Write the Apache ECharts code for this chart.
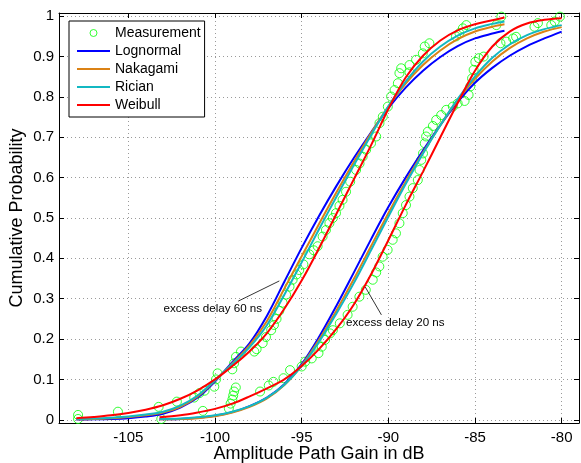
<!DOCTYPE html>
<html>
<head>
<meta charset="utf-8">
<script src="https://cdn.jsdelivr.net/npm/echarts@6/dist/echarts.min.js"></script>
<style>html,body{margin:0;padding:0;background:#fff}#c{width:581px;height:463px}</style>
</head>
<body>
<div id="c"></div>
<script>
// ---- data ----
const legendNames = ['Measurement', 'Lognormal', 'Nakagami', 'Rician', 'Weibull'];

// excess delay 60 ns: fitted CDFs
const x60 = [-108,-107,-106,-105,-104,-103,-102,-101,-100,-99,-98,-97,-96,-95,-94,-93,-92,-91,-90,-89,-88,-87,-86,-85,-84,-83.3];
const lognormal60 = [0.0005,0.001,0.002,0.004,0.008,0.015,0.03,0.055,0.095,0.143,0.19,0.258,0.342,0.426,0.505,0.579,0.648,0.712,0.772,0.823,0.865,0.899,0.926,0.945,0.957,0.964];
const nakagami60  = [0.001,0.002,0.004,0.007,0.011,0.018,0.032,0.058,0.097,0.14,0.185,0.245,0.325,0.405,0.485,0.563,0.638,0.71,0.776,0.833,0.879,0.915,0.943,0.962,0.974,0.98];
const rician60    = [0.002,0.003,0.005,0.008,0.013,0.02,0.035,0.06,0.098,0.138,0.18,0.235,0.31,0.39,0.472,0.552,0.63,0.705,0.777,0.838,0.888,0.925,0.952,0.97,0.981,0.987];
const weibull60   = [0.004,0.007,0.011,0.017,0.025,0.036,0.052,0.073,0.1,0.133,0.17,0.215,0.275,0.345,0.425,0.51,0.595,0.68,0.77,0.848,0.902,0.94,0.965,0.98,0.99,0.997];

// excess delay 20 ns: fitted CDFs
const x20 = [-103.2,-102,-101,-100,-99,-98,-97,-96,-95,-94,-93,-92,-91,-90,-89,-88,-87,-86,-85,-84,-83,-82,-81,-80];
const lognormal20 = [0.001,0.002,0.005,0.01,0.019,0.034,0.055,0.088,0.138,0.205,0.282,0.364,0.447,0.527,0.6,0.667,0.73,0.787,0.835,0.872,0.902,0.926,0.945,0.962];
const nakagami20  = [0.001,0.002,0.004,0.009,0.018,0.032,0.053,0.086,0.135,0.198,0.27,0.348,0.43,0.512,0.59,0.662,0.73,0.792,0.845,0.888,0.921,0.945,0.962,0.973];
const rician20    = [0.002,0.003,0.006,0.011,0.02,0.034,0.055,0.087,0.133,0.193,0.263,0.338,0.42,0.503,0.584,0.66,0.73,0.795,0.851,0.897,0.93,0.953,0.968,0.978];
const weibull20   = [0.006,0.011,0.018,0.027,0.04,0.058,0.078,0.1,0.133,0.175,0.225,0.285,0.36,0.445,0.532,0.615,0.7,0.785,0.865,0.925,0.962,0.982,0.991,0.995];

// measurements, 60 ns
const meas60X = [-107.9,-107.9,-105.6,-103.25,-102.2,-101.2,-100.9,-100.6,-100.04,-99.94,-99.85,-99.0,-98.9,-98.79,-98.5,-97.73,-97.6,-97.25,-97.06,-96.76,-96.6,-96.45,-96.29,-96.1,-95.9,-95.7,-95.52,-95.3,-95.14,-94.9,-94.56,-94.3,-94.08,-93.79,-93.6,-93.4,-93.2,-93.02,-92.82,-92.64,-92.44,-92.2,-91.86,-91.66,-91.48,-91.28,-91.0,-90.7,-90.51,-90.32,-90.03,-89.84,-89.64,-89.45,-89.36,-89.26,-88.78,-88.78,-88.4,-88.01,-87.9,-87.63,-86.1,-85.9,-85.7,-85.5,-83.77,-83.48];
const meas60Y = [0.012,0.002,0.02,0.032,0.045,0.055,0.066,0.072,0.082,0.1,0.115,0.125,0.14,0.156,0.169,0.169,0.175,0.19,0.205,0.222,0.235,0.25,0.27,0.29,0.31,0.33,0.347,0.36,0.371,0.385,0.41,0.42,0.43,0.454,0.47,0.487,0.5,0.512,0.53,0.545,0.565,0.59,0.619,0.635,0.652,0.669,0.685,0.702,0.735,0.751,0.776,0.801,0.817,0.834,0.859,0.871,0.861,0.879,0.892,0.908,0.925,0.933,0.95,0.958,0.97,0.978,0.978,0.999];

// measurements, 20 ns
const meas20X = [-103.1,-100.7,-99.2,-99.1,-99.0,-98.95,-98.9,-98.8,-97.4,-96.9,-96.63,-96.05,-95.67,-95.0,-94.8,-94.42,-94.03,-93.84,-93.65,-93.36,-93.2,-92.8,-92.35,-92.06,-91.67,-91.3,-90.9,-90.7,-90.52,-90.33,-90.04,-89.75,-89.56,-89.36,-89.17,-88.98,-88.78,-88.59,-88.3,-88.2,-88.1,-88.0,-87.9,-87.82,-87.72,-87.43,-87.24,-86.95,-86.66,-86.28,-86.0,-85.6,-85.37,-85.27,-85.17,-85.08,-84.98,-84.78,-84.5,-83.53,-83.2,-82.8,-82.63,-81.57,-81.37,-80.6,-80.4,-80.1];
const meas20Y = [0.002,0.022,0.028,0.04,0.05,0.06,0.07,0.08,0.07,0.085,0.094,0.103,0.123,0.132,0.144,0.152,0.165,0.181,0.198,0.214,0.222,0.239,0.26,0.28,0.305,0.322,0.347,0.365,0.38,0.404,0.421,0.446,0.462,0.487,0.512,0.532,0.553,0.574,0.594,0.619,0.644,0.66,0.685,0.702,0.714,0.728,0.743,0.755,0.768,0.776,0.784,0.79,0.805,0.826,0.846,0.867,0.887,0.896,0.9,0.933,0.937,0.945,0.949,0.974,0.983,0.978,0.987,0.999];

// annotations (data coordinates)
const annText = ['excess delay 60 ns', 'excess delay 20 ns'];
const annTextPos = [[-100.13, 0.274], [-89.6, 0.24]];
const annArrowFrom = [[-98.66, 0.294], [-90.4, 0.26]];
const annArrowTo = [[-96.29, 0.344], [-91.33, 0.329]];

// ---- chart ----
const FONT = "'Liberation Sans', Arial, Helvetica, sans-serif";
const colors = {Lognormal: '#0000ff', Nakagami: '#db8215', Rician: '#13b8c2', Weibull: '#ff0000'};
const pair = (xs, ys) => xs.map((x, i) => [x, ys[i]]);

function lineSeries(name, xs, ys) {
  return {
    name: name, type: 'line', data: pair(xs, ys),
    xAxisIndex: 0, yAxisIndex: 0,
    symbol: 'none', showSymbol: false, smooth: 0.35,
    lineStyle: {color: colors[name], width: 2},
    itemStyle: {color: colors[name]},
    emphasis: {disabled: true}, silent: true
  };
}

const measData = pair(meas60X, meas60Y).concat(pair(meas20X, meas20Y));

const series = [
  {
    name: 'Measurement', type: 'scatter', data: measData,
    xAxisIndex: 0, yAxisIndex: 0,
    symbol: 'circle', symbolSize: 9,
    itemStyle: {color: 'rgba(0,0,0,0)', borderColor: '#00ff00', borderWidth: 1},
    emphasis: {disabled: true}, silent: true
  },
  lineSeries('Lognormal', x60, lognormal60),
  lineSeries('Lognormal', x20, lognormal20),
  lineSeries('Nakagami', x60, nakagami60),
  lineSeries('Nakagami', x20, nakagami20),
  lineSeries('Rician', x60, rician60),
  lineSeries('Rician', x20, rician20),
  lineSeries('Weibull', x60, weibull60),
  lineSeries('Weibull', x20, weibull20),
  {
    name: 'annotations', type: 'line', data: [],
    xAxisIndex: 0, yAxisIndex: 0, silent: true,
    markLine: {
      silent: true, animation: false,
      symbol: ['none', 'arrow'], symbolSize: [0, 9],
      lineStyle: {color: '#000', width: 0.8, type: 'solid'},
      label: {show: false},
      emphasis: {disabled: true},
      data: annArrowFrom.map((p, i) => [{coord: p}, {coord: annArrowTo[i]}])
    },
    markPoint: {
      silent: true, animation: false,
      symbol: 'circle', symbolSize: 1,
      itemStyle: {color: 'rgba(0,0,0,0)'},
      label: {show: true, position: 'inside', formatter: '{b}', color: '#000', fontSize: 11.6, fontFamily: FONT},
      data: annText.map((t, i) => ({name: t, coord: annTextPos[i]}))
    }
  }
];

const axisLineStyle = {color: '#000', width: 1};
const gridLine = {show: true, lineStyle: {color: '#9a9a9a', type: [1, 3], width: 1}};
const lineIcon = 'path://M0,0 L33,0 L33,2 L0,2 Z';

const option = {
  animation: false,
  backgroundColor: '#fff',
  textStyle: {fontFamily: FONT},
  grid: {left: 59, right: 2, top: 13, bottom: 40, containLabel: false, outerBoundsMode: 'none'},
  legend: {
    data: legendNames.map((n, i) => i === 0
      ? {name: n, icon: 'circle', itemStyle: {borderWidth: 1}}
      : {name: n, icon: lineIcon, itemStyle: {borderWidth: 0}}),
    orient: 'vertical', left: 69, top: 21,
    padding: [5, 4, 5, 8], itemGap: 4,
    itemWidth: 33, itemHeight: 7, symbolKeepAspect: true,
    backgroundColor: '#fff', borderColor: '#000', borderWidth: 1, borderRadius: 0,
    textStyle: {fontSize: 14, color: '#000', fontFamily: FONT},
    selectedMode: false
  },
  xAxis: [
    {
      type: 'value', min: -109, max: -79, splitNumber: 6, position: 'bottom',
      axisLine: {show: true, onZero: false, lineStyle: axisLineStyle},
      axisTick: {show: true, inside: true, length: 5, lineStyle: axisLineStyle},
      axisLabel: {color: '#000', fontSize: 15, margin: 7, showMinLabel: false, showMaxLabel: false, fontFamily: FONT},
      splitLine: gridLine,
      name: 'Amplitude Path Gain in dB', nameLocation: 'middle', nameGap: 22, nameMoveOverlap: false,
      nameTextStyle: {fontSize: 18, color: '#000', fontFamily: FONT}
    },
    {
      type: 'value', min: -109, max: -79, splitNumber: 6, position: 'top',
      axisLine: {show: true, onZero: false, lineStyle: axisLineStyle},
      axisTick: {show: true, inside: true, length: 5, lineStyle: axisLineStyle},
      axisLabel: {show: false}, splitLine: {show: false}
    }
  ],
  yAxis: [
    {
      type: 'value', min: -0.008, max: 1.008, splitNumber: 10, position: 'left',
      axisLine: {show: true, onZero: false, lineStyle: axisLineStyle},
      axisTick: {show: true, inside: true, length: 5, lineStyle: axisLineStyle},
      axisLabel: {color: '#000', fontSize: 15, margin: 5, showMinLabel: false, showMaxLabel: false, fontFamily: FONT},
      splitLine: gridLine,
      name: 'Cumulative Probability', nameLocation: 'middle', nameGap: 33, nameRotate: 90, nameMoveOverlap: false,
      nameTextStyle: {fontSize: 18, color: '#000', fontFamily: FONT}
    },
    {
      type: 'value', min: -0.008, max: 1.008, splitNumber: 10, position: 'right',
      axisLine: {show: true, onZero: false, lineStyle: axisLineStyle},
      axisTick: {show: true, inside: true, length: 5, lineStyle: axisLineStyle},
      axisLabel: {show: false}, splitLine: {show: false}
    }
  ],
  series: series
};

const chart = echarts.init(document.getElementById('c'), null, {renderer: 'canvas'});
chart.setOption(option);
</script>
</body>
</html>
